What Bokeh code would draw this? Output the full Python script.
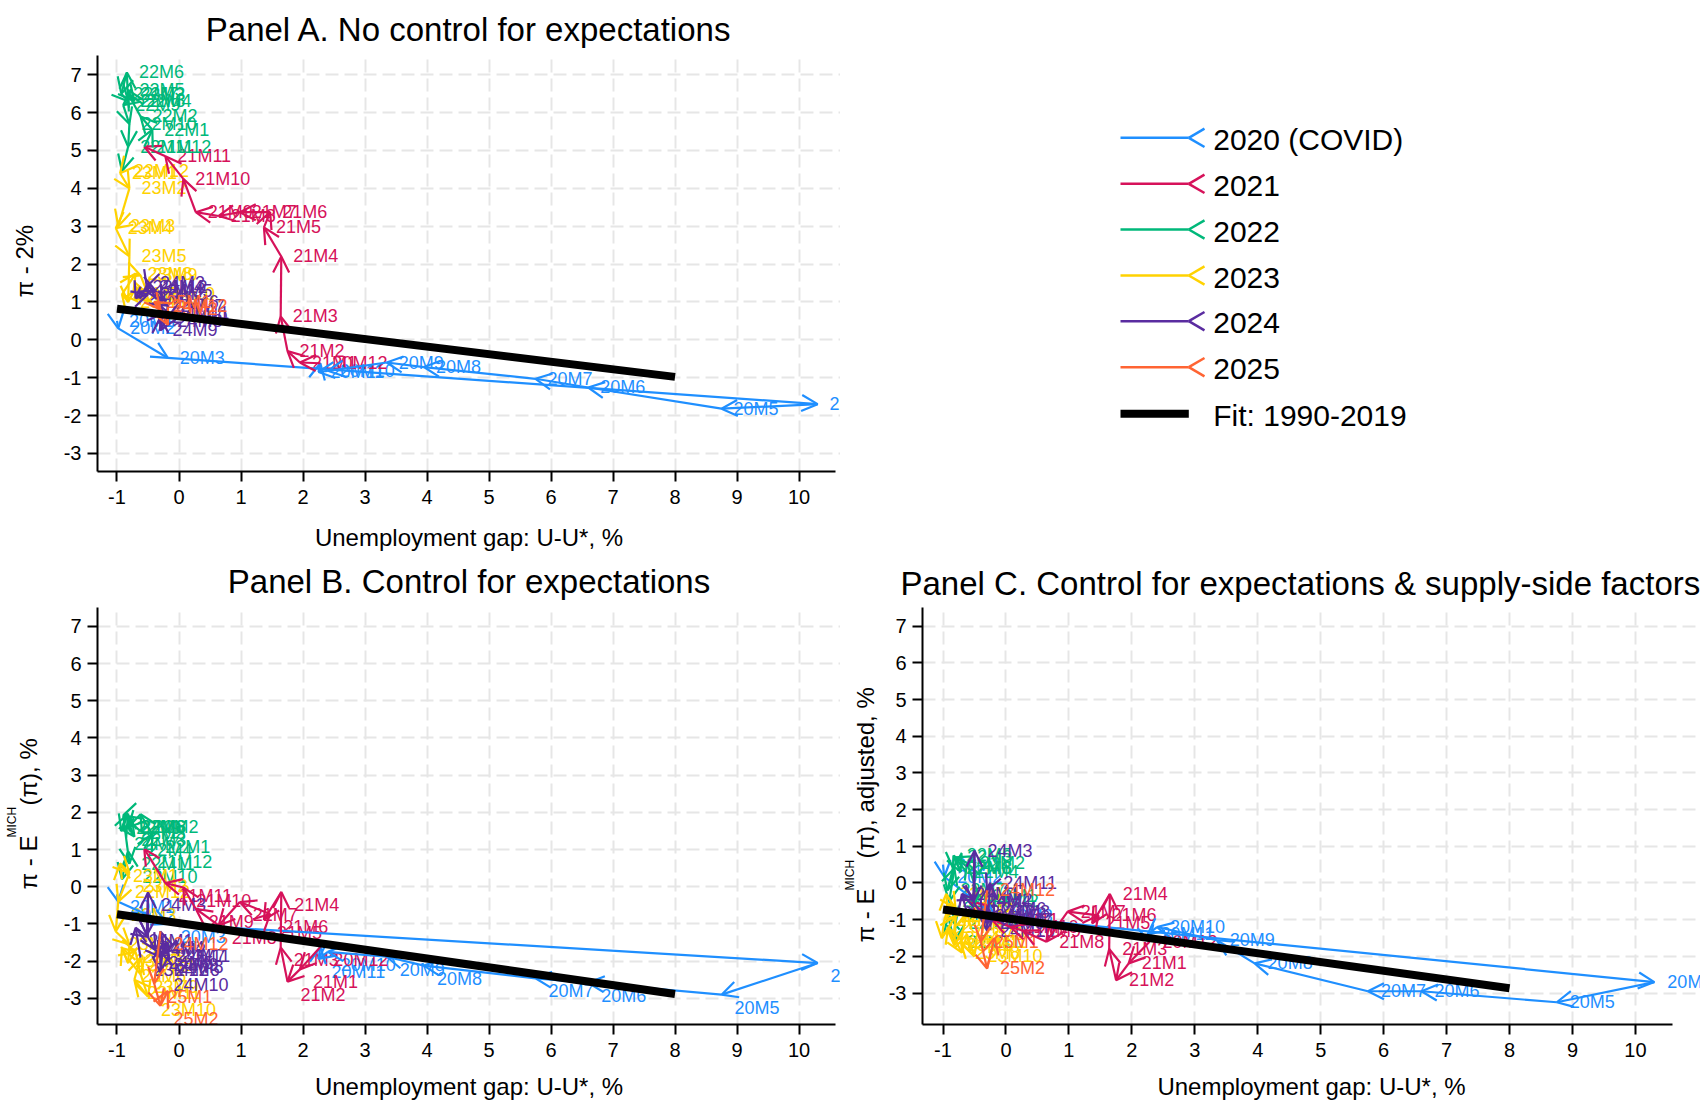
from math import pi
from bokeh.plotting import figure
from bokeh.models import ColumnDataSource, Arrow, OpenHead, FixedTicker, Range1d
from bokeh.layouts import row, column
from bokeh.embed import file_html
from bokeh.resources import INLINE
from bokeh.core.properties import value

FONT = "Liberation Sans"

# ---------------- data ----------------
year_codes = ["20", "21", "22", "23", "24", "25"]
legend_labels = ["2020 (COVID)", "2021", "2022", "2023", "2024", "2025"]
year_colors = ["#1f8fff", "#d6125a", "#00b87a", "#ffd200", "#5a2ca0", "#ff6433"]
months_per_year = [12, 12, 12, 12, 12, 3]

xtick_vals = [-1, 0, 1, 2, 3, 4, 5, 6, 7, 8, 9, 10]
xtick_labels = ["-1", "0", "1", "2", "3", "4", "5", "6", "7", "8", "9", "10"]
ytick_vals = [-3, -2, -1, 0, 1, 2, 3, 4, 5, 6, 7]
ytick_labels = ["-3", "-2", "-1", "0", "1", "2", "3", "4", "5", "6", "7"]

# unemployment gap U-U*, % (same for all panels)
gap_2020 = [-1.00, -0.98, -0.18, 10.30, 8.75, 6.60, 5.75, 3.95, 3.35, 2.40, 2.25, 2.28]
gap_2021 = [1.95, 1.75, 1.64, 1.65, 1.37, 1.47, 0.98, 0.64, 0.27, 0.07, -0.22, -0.56]
gap_2022 = [-0.43, -0.62, -0.82, -0.72, -0.83, -0.84, -0.93, -0.82, -0.90, -0.80, -0.82, -0.92]
gap_2023 = [-0.95, -0.80, -0.98, -1.02, -0.80, -0.82, -0.92, -0.70, -0.62, -0.50, -0.72, -0.62]
gap_2024 = [-0.70, -0.50, -0.50, -0.52, -0.38, -0.28, -0.18, -0.22, -0.30, -0.30, -0.25, -0.30]
gap_2025 = [-0.40, -0.30, -0.18]

# Panel A: pi - 2%
a_2020 = [0.50, 0.30, -0.48, -1.70, -1.82, -1.26, -1.03, -0.72, -0.60, -0.82, -0.85, -0.62]
a_2021 = [-0.60, -0.30, 0.62, 2.20, 2.97, 3.37, 3.37, 3.27, 3.37, 4.25, 4.85, 5.10]
a_2022 = [5.55, 5.90, 6.50, 6.30, 6.60, 7.06, 6.50, 6.30, 6.20, 5.70, 5.10, 4.46]
a_2023 = [4.40, 4.00, 3.00, 2.95, 2.20, 1.00, 1.20, 1.75, 1.70, 1.20, 1.10, 1.40]
a_2024 = [1.10, 1.20, 1.50, 1.40, 1.30, 1.00, 0.90, 0.50, 0.25, 0.60, 0.70, 0.90]
a_2025 = [1.00, 0.80, 0.40]

# Panel B: pi - E^MICH(pi)
b_2020 = [-0.20, -0.40, -1.00, -2.05, -2.90, -2.58, -2.46, -2.12, -1.88, -1.75, -1.94, -1.62]
b_2021 = [-2.22, -2.55, -1.63, -0.14, -0.89, -0.73, -0.41, -1.04, -0.59, -0.02, 0.10, 1.02]
b_2022 = [1.42, 1.95, 1.60, 1.35, 1.80, 1.95, 1.50, 1.96, 1.92, 0.62, 0.95, 0.20]
b_2023 = [0.63, 0.37, -0.40, -1.20, -1.55, -2.05, -1.65, -1.75, -2.35, -2.95, -2.50, -1.90]
b_2024 = [-1.10, -1.35, -0.15, -1.30, -1.70, -1.90, -1.50, -1.80, -1.75, -2.30, -1.50, -1.20]
b_2025 = [-2.60, -3.20, -2.80]

# Panel C: pi - E^MICH(pi), adjusted
c_2020 = [0.50, 0.17, -0.90, -2.70, -3.25, -2.95, -2.95, -2.19, -1.56, -1.20, -1.40, -1.60]
c_2021 = [-2.19, -2.65, -1.80, -0.30, -1.10, -0.88, -0.78, -1.60, -1.30, -1.20, -1.00, -0.50]
c_2022 = [-0.35, 0.55, 0.70, 0.30, 0.75, 0.40, -0.20, 0.40, -0.50, -1.10, -1.60, -0.90]
c_2023 = [-0.30, -0.70, -1.00, -1.50, -0.90, -1.70, -1.20, -1.90, -1.40, -2.00, -1.60, -0.80]
c_2024 = [-0.30, -0.45, 0.88, -0.50, -0.90, -0.70, -1.00, -0.80, -1.10, -1.30, 0.00, -0.20]
c_2025 = [-1.60, -2.33, -1.50]

# fitted line 1990-2019
fit_x = [-1.0, 8.0]
fit_a = [0.82, -0.98]
fit_b = [-0.74, -2.88]
fit_c = [-0.72, -2.87]

titles = ["Panel A. No control for expectations",
          "Panel B. Control for expectations",
          "Panel C. Control for expectations & supply-side factors"]
x_title = "Unemployment gap: U-U*, %"

# ---------------- helpers ----------------
month_names = [f"{yc}M{m}" for yc, nm in zip(year_codes, months_per_year) for m in range(1, nm + 1)]
gap_all = gap_2020 + gap_2021 + gap_2022 + gap_2023 + gap_2024 + gap_2025
ya_all = a_2020 + a_2021 + a_2022 + a_2023 + a_2024 + a_2025
yb_all = b_2020 + b_2021 + b_2022 + b_2023 + b_2024 + b_2025
yc_all = c_2020 + c_2021 + c_2022 + c_2023 + c_2024 + c_2025

# layout geometry (pixels)
TOP_T, TOP_F, TOP_B = 55, 416, 80      # top row: border top, frame, border bottom
BOT_T, BOT_F, BOT_B = 53, 417, 79      # bottom row


def make_panel(title, xr, yr, fw, left, right, top, fh, bottom, title_standoff, title_align,
               title_offset, axis_title_standoff, xbound_end):
    p = figure(title=title, x_range=Range1d(*xr), y_range=Range1d(*yr),
               frame_width=fw, frame_height=fh,
               min_border_left=left, min_border_right=right,
               min_border_top=top, min_border_bottom=bottom,
               toolbar_location=None, output_backend="svg")
    p.outline_line_color = None
    p.background_fill_color = "white"
    p.border_fill_color = "white"
    p.title.align = title_align
    p.title.text_font = FONT
    p.title.text_font_size = "33px"
    p.title.text_font_style = "normal"
    p.title.text_color = "black"
    p.title.standoff = title_standoff
    p.title.offset = title_offset

    p.xaxis.ticker = FixedTicker(ticks=xtick_vals)
    p.yaxis.ticker = FixedTicker(ticks=ytick_vals)
    p.xaxis.major_label_overrides = dict(zip(xtick_vals, xtick_labels))
    p.yaxis.major_label_overrides = dict(zip(ytick_vals, ytick_labels))
    p.xaxis.bounds = (xr[0], xbound_end)
    for ax in (p.xaxis[0], p.yaxis[0]):
        ax.axis_line_width = 2
        ax.axis_line_color = "black"
        ax.major_tick_line_width = 2
        ax.major_tick_line_color = "black"
        ax.major_tick_out = 10
        ax.major_tick_in = 0
        ax.minor_tick_line_color = None
        ax.major_label_text_font = FONT
        ax.major_label_text_font_size = "20px"
        ax.major_label_text_color = "black"
    p.yaxis.major_label_standoff = 6
    p.xaxis.major_label_standoff = 8
    p.xaxis.axis_label = x_title
    p.xaxis.axis_label_text_font = FONT
    p.xaxis.axis_label_text_font_size = "24px"
    p.xaxis.axis_label_text_font_style = "normal"
    p.xaxis.axis_label_text_color = "black"
    p.xaxis.axis_label_standoff = axis_title_standoff

    p.xgrid.ticker = FixedTicker(ticks=xtick_vals)
    p.ygrid.ticker = FixedTicker(ticks=ytick_vals)
    p.grid.grid_line_color = "#e6e6e6"
    p.grid.grid_line_width = 2
    p.grid.grid_line_dash = "13 6"
    return p


def draw_paths(p, xs, ys, dx, dy):
    n = len(xs)
    yrs = [nm[:2] for nm in month_names]
    for yc, col in zip(year_codes, year_colors):
        idx = [i for i in range(n - 1) if yrs[i + 1] == yc]
        src = ColumnDataSource(dict(
            x0=[xs[i] for i in idx], y0=[ys[i] for i in idx],
            x1=[xs[i + 1] for i in idx], y1=[ys[i + 1] for i in idx],
            lab=[month_names[i] for i in idx]))
        p.add_layout(Arrow(end=OpenHead(size=16, line_color=col, line_width=2.2),
                           x_start="x0", y_start="y0", x_end="x1", y_end="y1",
                           source=src, line_color=col, line_width=2.2))
        p.text(x="x0", y="y0", text="lab", source=src, text_color=col,
               text_font=value(FONT), text_font_size="18px",
               text_baseline="middle", text_align="left", x_offset=dx, y_offset=dy)


def add_fit(p, fy):
    p.line(fit_x, fy, line_width=8, line_color="black", level="overlay")


def side_figure(x0, x1, top, fh, bottom, yr=None):
    f = figure(x_range=Range1d(x0, x1), y_range=Range1d(*(yr or (0, fh))),
               frame_width=int(x1 - x0), frame_height=fh, min_border=0,
               min_border_top=top, min_border_bottom=bottom,
               x_axis_type=None, y_axis_type=None,
               toolbar_location=None, output_backend="svg")
    f.outline_line_color = None
    f.grid.visible = False
    return f


def rotated_pieces(f, pieces):
    src = ColumnDataSource(dict(x=[q[1] for q in pieces], y=[q[2] for q in pieces],
                                t=[q[0] for q in pieces], s=[q[3] for q in pieces]))
    f.text(x="x", y="y", text="t", text_font_size="s", source=src, angle=pi / 2,
           text_align="left", text_baseline="middle", text_font=value(FONT),
           text_color="black")


# ---------------- Panel A (top left) ----------------
tA = side_figure(0, 58, TOP_T, TOP_F, TOP_B)
rotated_pieces(tA, [("π - 2%", 24, 174, "24px")])

pA = make_panel(titles[0], (-1.3145, 10.669), (-3.479, 7.509), 743, 39, 0,
                TOP_T, TOP_F, TOP_B, 16, "center", 0, 17, 10.59)
draw_paths(pA, gap_all, ya_all, 12, 0)
add_fit(pA, fit_a)

# ---------------- Legend (top right) ----------------
pL = side_figure(840, 1700, TOP_T, TOP_F, TOP_B, yr=(471, 55))
leg_y = [137.3, 183.3, 229.0, 275.0, 320.7, 366.7]
fit_leg_y = 413.3
leg_src = ColumnDataSource(dict(
    y=leg_y, col=year_colors, lab=legend_labels,
    xs=[1120] * 6, xv=[1188.3] * 6, xa=[1204] * 6,
    yu=[v - 9.2 for v in leg_y], yd=[v + 9.2 for v in leg_y], xt=[1212.7] * 6,
    yt=[v + 2 for v in leg_y]))
pL.segment(x0="xs", y0="y", x1="xv", y1="y", line_color="col", line_width=2.5, source=leg_src)
pL.segment(x0="xv", y0="y", x1="xa", y1="yu", line_color="col", line_width=2.5, source=leg_src)
pL.segment(x0="xv", y0="y", x1="xa", y1="yd", line_color="col", line_width=2.5, source=leg_src)
pL.text(x="xt", y="yt", text="lab", source=leg_src, text_font=value(FONT),
        text_font_size="30px", text_baseline="middle", text_color="black")
pL.segment(x0=[1120], y0=[fit_leg_y], x1=[1188.3], y1=[fit_leg_y], line_color="black", line_width=8)
pL.text(x=[1212.7], y=[fit_leg_y + 2], text=["Fit: 1990-2019"], text_font=value(FONT),
        text_font_size="30px", text_baseline="middle", text_color="black")

# ---------------- Panel B (bottom left) ----------------
tB = side_figure(0, 58, BOT_T, BOT_F, BOT_B)
yb0 = 135
rotated_pieces(tB, [("π - E", 28, yb0, "24px"),
                    ("MICH", 11, yb0 + 52, "12px"),
                    ("(π), %", 28, yb0 + 84, "24px")])

pB = make_panel(titles[1], (-1.3145, 10.669), (-3.702, 7.508), 743, 39, 0,
                BOT_T, BOT_F, BOT_B, 15, "center", 0, 13, 10.59)
draw_paths(pB, gap_all, yb_all, 13, 13)
add_fit(pB, fit_b)

# ---------------- Panel C (bottom right) ----------------
tC = side_figure(840, 885, BOT_T, BOT_F, BOT_B)
yc0 = 82
rotated_pieces(tC, [("π - E", 865, yc0, "24px"),
                    ("MICH", 849, yc0 + 52, "12px"),
                    ("(π), adjusted, %", 865, yc0 + 84, "24px")])

pC = make_panel(titles[2], (-1.3257, 11.033), (-3.856, 7.507), 778, 37, 0,
                BOT_T, BOT_F, BOT_B, 11, "left", -22, 13, 10.59)
draw_paths(pC, gap_all, yc_all, 13, 0)
add_fit(pC, fit_c)

layout = column(row(tA, pA, pL), row(tB, pB, tC, pC))
open("out.html", "w").write(file_html(layout, INLINE))
